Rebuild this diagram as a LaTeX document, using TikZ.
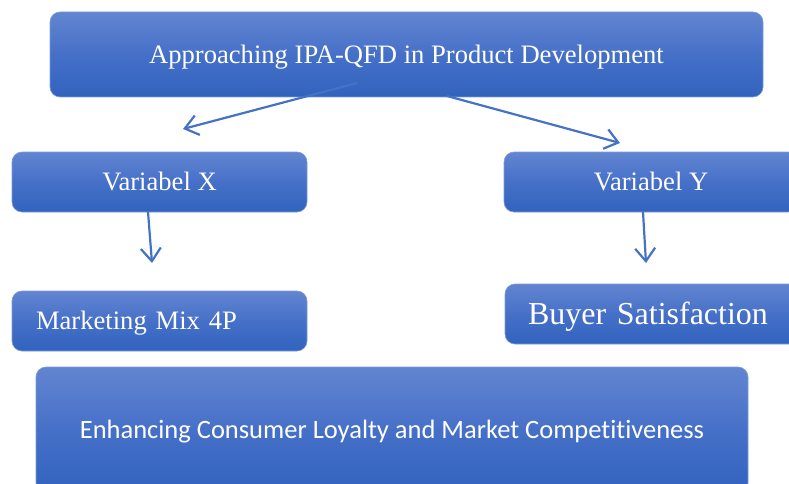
\documentclass[tikz,border=0pt]{standalone}
\usepackage{fontspec}
\setmainfont{Liberation Serif}
\newfontfamily\calibrifont[Ligatures=NoCommon]{Carlito}
\usetikzlibrary{arrows.meta}
\definecolor{boxtop}{RGB}{98,133,208}
\definecolor{boxmid}{RGB}{70,112,200}
\definecolor{boxbot}{RGB}{49,99,190}
\definecolor{boxedge}{RGB}{125,155,218}
\definecolor{arrowblue}{RGB}{68,114,196}
\begin{document}
\begin{tikzpicture}[x=1pt,y=-1pt,
  blockbox/.style={draw=boxedge, line width=0.6pt, rounded corners=10pt,
    top color=boxtop, bottom color=boxbot, middle color=boxmid,
    text=white, inner sep=0pt, text height=17.6pt, text depth=0pt,
    font=\fontsize{26.6}{30}\selectfont},
  flow/.style={draw=arrowblue, line width=2.2pt,
    -{Straight Barb[length=13pt,width=20pt]}}]
\useasboundingbox (0,0) rectangle (789,484);
\clip (0,0) rectangle (789,484);

% boxes
\node[blockbox, minimum width=713pt, minimum height=85pt] (top) at (406.5,54.5)
  {Approaching IPA-QFD in Product Development};
\node[blockbox, minimum width=295pt, minimum height=60pt] (vx) at (159.5,182)
  {Variabel X};
\node[blockbox, minimum width=294pt, minimum height=60pt] (vy) at (651,182)
  {Variabel Y};
\node[blockbox, minimum height=60pt, inner xsep=24pt, text width=247pt, align=left] (mm) at (159.5,321)
  {Marketing Mix 4P};
\node[blockbox, minimum height=60pt, inner xsep=23pt, text width=249pt, align=left,
  text height=21.2pt, font=\fontsize{32}{36}\selectfont] (bs) at (652.5,314)
  {Buyer Satisfaction};
\node[blockbox, minimum width=712pt, minimum height=126pt, text height=17pt,
  font=\calibrifont\fontsize{26.5}{30}\selectfont] (out) at (392,430)
  {Enhancing Consumer Loyalty and Market Competitiveness};

% connector end points
\coordinate (ls) at (357,83);
\coordinate (le) at (183,129);
\coordinate (rs) at (447,96);
\coordinate (re) at (620,143);
\coordinate (xs) at (148,212);
\coordinate (xe) at (152,263);
\coordinate (ys) at (643,212);
\coordinate (ye) at (646,263);

% arrows
\draw[flow] (ls) -- (le);
\draw[flow] (rs) -- (re);
\draw[flow] (xs) -- (xe);
\draw[flow] (ys) -- (ye);
\end{tikzpicture}
\end{document}
